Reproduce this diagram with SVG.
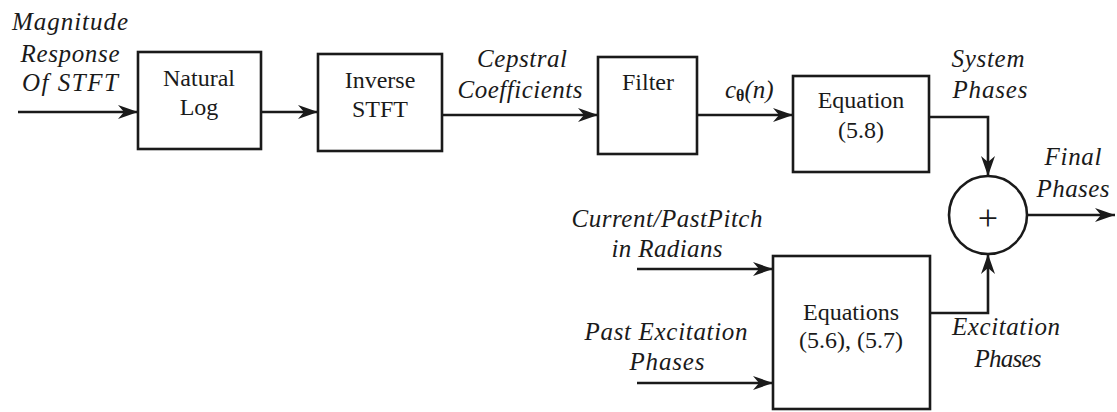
<svg xmlns="http://www.w3.org/2000/svg" width="1117" height="412" viewBox="0 0 1117 412">
  <style>
    .box { fill: none; stroke: #1a1a1a; stroke-width: 2.6; }
    .wire { fill: none; stroke: #1a1a1a; stroke-width: 2.6; marker-end: url(#arr); }
    .up { font-family: "Liberation Serif", serif; font-size: 24px; fill: #1a1a1a; text-anchor: middle; }
    .it { font-family: "Liberation Serif", serif; font-style: italic; font-size: 25px; fill: #1a1a1a; text-anchor: middle; }
  </style>
  <defs>
    <marker id="arr" markerUnits="userSpaceOnUse" markerWidth="22" markerHeight="16" refX="21" refY="8" orient="auto">
      <path d="M1,1 L21,8 L1,15 L7,8 z" fill="#1a1a1a"/>
    </marker>
  </defs>
  <rect width="1117" height="412" fill="#ffffff"/>

  <g id="connectors">
    <path class="wire" d="M18,112 H138"/>
    <path class="wire" d="M261,112 H318"/>
    <path class="wire" d="M442,115 H598"/>
    <path class="wire" d="M697,115 H793"/>
    <path class="wire" d="M929,117 H988 V176"/>
    <path class="wire" d="M930,313 H988 V254"/>
    <path class="wire" d="M1027,215 H1115"/>
    <path class="wire" d="M637,269 H773"/>
    <path class="wire" d="M637,383 H773"/>
  </g>

  <g id="input-label">
    <text class="it" x="70" y="30" textLength="116">Magnitude</text>
    <text class="it" x="70" y="62" textLength="99">Response</text>
    <text class="it" x="70" y="91" textLength="96">Of STFT</text>
  </g>

  <g id="natural-log">
    <rect class="box" x="138" y="52" width="123" height="97"/>
    <text class="up" x="199" y="86">Natural</text>
    <text class="up" x="199" y="115">Log</text>
  </g>

  <g id="inverse-stft">
    <rect class="box" x="318" y="54" width="124" height="97"/>
    <text class="up" x="380" y="88">Inverse</text>
    <text class="up" x="380" y="117">STFT</text>
  </g>

  <g id="cepstral-label">
    <text class="it" x="522" y="67" textLength="90">Cepstral</text>
    <text class="it" x="520" y="98" textLength="125">Coefficients</text>
  </g>

  <g id="filter">
    <rect class="box" x="598" y="57" width="99" height="97"/>
    <text class="up" x="648" y="90">Filter</text>
  </g>

  <g id="ctheta-label">
    <text x="725" y="98" font-family="Liberation Serif, serif" font-size="25" fill="#1a1a1a"><tspan font-style="italic">c</tspan><tspan font-size="16" dy="3" font-weight="bold">θ</tspan><tspan font-style="italic" dy="-3">(n)</tspan></text>
  </g>

  <g id="equation-5-8">
    <rect class="box" x="793" y="76" width="136" height="96"/>
    <text class="up" x="861" y="108">Equation</text>
    <text class="up" x="861" y="138">(5.8)</text>
  </g>

  <g id="system-phases-label">
    <text class="it" x="988" y="67" textLength="73">System</text>
    <text class="it" x="990" y="98" textLength="75">Phases</text>
  </g>

  <g id="sum">
    <circle class="box" cx="988" cy="215" r="39"/>
    <text x="988" y="230" font-family="Liberation Serif, serif" font-size="36" fill="#1a1a1a" text-anchor="middle">+</text>
  </g>

  <g id="final-phases-label">
    <text class="it" x="1073" y="165" textLength="57">Final</text>
    <text class="it" x="1073" y="197" textLength="73">Phases</text>
  </g>

  <g id="pitch-label">
    <text class="it" x="667" y="227" textLength="191">Current/PastPitch</text>
    <text class="it" x="667" y="257" textLength="111">in Radians</text>
  </g>

  <g id="past-excitation-label">
    <text class="it" x="666" y="340" textLength="163">Past Excitation</text>
    <text class="it" x="667" y="370" textLength="75">Phases</text>
  </g>

  <g id="equations-5-6-5-7">
    <rect class="box" x="773" y="256" width="157" height="153"/>
    <text class="up" x="851" y="320">Equations</text>
    <text class="up" x="851" y="348">(5.6), (5.7)</text>
  </g>

  <g id="excitation-phases-label">
    <text class="it" x="1006" y="335" textLength="108">Excitation</text>
    <text class="it" x="1008" y="367" textLength="67">Phases</text>
  </g>
</svg>
